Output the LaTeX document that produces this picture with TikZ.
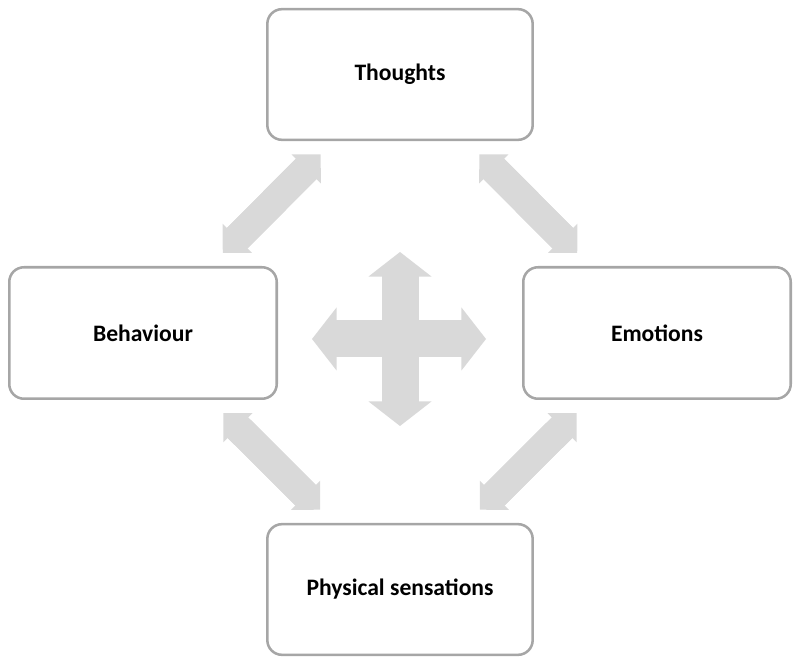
\documentclass[tikz,border=0pt]{standalone}
\usepackage{fontspec}
\setmainfont{Carlito}
\usetikzlibrary{arrows.meta,positioning}
\definecolor{CbtLine}{HTML}{A6A6A6}
\definecolor{CbtArrow}{HTML}{D9D9D9}
\definecolor{CbtText}{HTML}{000000}
\tikzset{
  cbt box/.style={
    draw=CbtLine,
    fill=white,
    text=CbtText,
    line width=1.9pt,
    rounded corners=11pt,
    align=center,
    minimum width=199pt,
    minimum height=98pt,
    inner sep=4pt,
    font=\fontsize{17.7}{21}\selectfont\bfseries
  },
  cbt box wide/.style={
    cbt box,
    minimum width=200.6pt,
    minimum height=98.6pt
  },
  cbt link/.style={
    draw=CbtArrow,
    line width=21.75pt,
    {Triangle[width=31pt,length=15.4pt,line width=0pt]}-{Triangle[width=31pt,length=15.4pt,line width=0pt]},
    shorten <=14pt,
    shorten >=14pt,
    postaction={draw=CbtArrow,-,shorten <=27.4pt,shorten >=27.4pt}
  },
  cbt cross/.style={
    draw=CbtArrow,
    line width=27.75pt,
    {Triangle[width=47.25pt,length=18.4pt,line width=0pt]}-{Triangle[width=47.25pt,length=18.4pt,line width=0pt]},
    postaction={draw=CbtArrow,-,shorten <=16.4pt,shorten >=16.4pt}
  }
}

\begin{document}
\begin{tikzpicture}[x=0.75pt,y=-0.75pt]
  \useasboundingbox (0,0) rectangle (800,666);

  \node[cbt box] (thoughts) at (400,74.5) {Thoughts};
  \node[cbt box wide] (behaviour) at (143,333) {Behaviour};
  \node[cbt box wide] (emotions) at (657,333) {Emotions};
  \node[cbt box] (physical) at (400,589.5) {Physical sensations};

  % links between the four boxes
  \draw[cbt link] (thoughts) -- (behaviour);
  \draw[cbt link] (thoughts) -- (emotions);
  \draw[cbt link] (behaviour) -- (physical);
  \draw[cbt link] (emotions) -- (physical);

  % cross in the middle
  \coordinate (crossN) at (400,252);
  \coordinate (crossS) at (400,426);
  \coordinate (crossW) at (312,339);
  \coordinate (crossE) at (486,339);
  \draw[cbt cross] (crossN) -- (crossS);
  \draw[cbt cross] (crossW) -- (crossE);
\end{tikzpicture}
\end{document}
